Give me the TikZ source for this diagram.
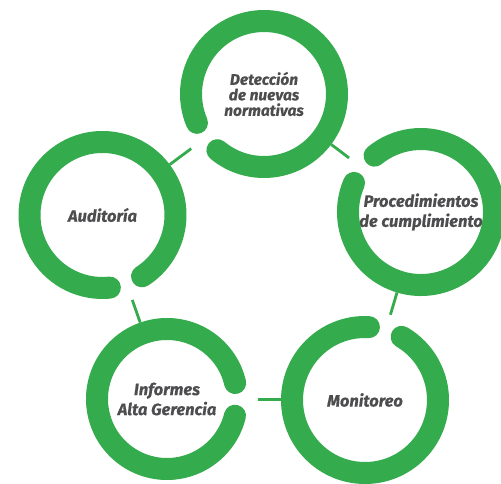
\documentclass[tikz,border=0pt]{standalone}
\usepackage{fontspec}
\setmainfont{Fira Sans}[BoldItalicFeatures={FakeBold=0.5}]
\usetikzlibrary{calc}
\definecolor{ringgreen}{RGB}{52,171,76}
\definecolor{labelgray}{RGB}{77,77,79}
\tikzset{
  hub/.style={circle, minimum size=#1, inner sep=0pt, outer sep=0pt,
    align=center, text=labelgray,
    font=\fontsize{16.5}{20}\selectfont\bfseries\itshape},
  ring/.style={draw=ringgreen, line width=22pt, line cap=round},
  link/.style={draw=ringgreen, line width=2.8pt},
}
% ring around node #1, centre line radius #2, opening centred on angle #3
\newcommand\openring[3]{%
  \draw[ring] ($(#1.center)+(#3+13.5:#2)$)
    arc[start angle=#3+13.5, end angle=#3+346.5, radius=#2];}
\begin{document}
\begin{tikzpicture}[x=1pt,y=1pt]
  \useasboundingbox (0,0) rectangle (501,483);

  % stages of the cycle
  \node[hub=168pt, font=\fontsize{15.5}{15.5}\selectfont\bfseries\itshape]
    (det) at (264,389) {Detección\\de nuevas\\normativas};
  \node[hub=168pt] (proc) at (421,271) {Procedimientos\\de cumplimiento};
  \node[hub=168pt] (aud)  at (102.5,268) {Auditoría};
  \node[hub=162pt] (inf)  at (167,84) {Informes\\Alta Gerencia};
  \node[hub=168pt] (mon)  at (365,83) {Monitoreo};

  % thin links, stopping short at each opening
  \draw[link, shorten >=7pt] (aud) -- (det);
  \draw[link, shorten >=6pt] (inf) -- (aud);
  \draw[link, shorten >=10pt] (mon) -- (inf);
  \draw[link, shorten >=5pt] (proc) -- (mon);
  \draw[link, shorten >=6pt] (det) -- (proc);

  % open rings, each opening faces the next stage
  \openring{det}{73pt}{216.8}
  \openring{aud}{73pt}{-70.7}
  \openring{inf}{70pt}{-0.3}
  \openring{mon}{73pt}{73.4}
  \openring{proc}{73pt}{143}
\end{tikzpicture}
\end{document}
